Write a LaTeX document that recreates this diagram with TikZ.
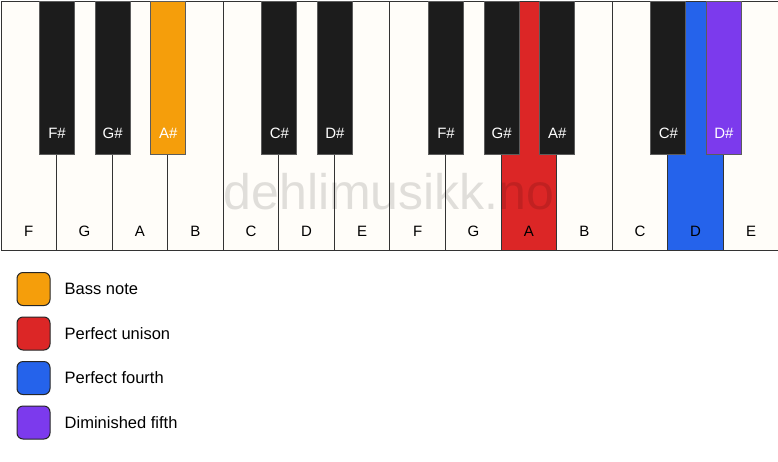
\documentclass[tikz,border=0pt]{standalone}
\usepackage{fontspec}
\setmainfont{Liberation Sans}
\usetikzlibrary{positioning}
\definecolor{keywhite}{HTML}{FFFDF9}
\definecolor{keyblack}{HTML}{1C1C1C}
\definecolor{keyline}{HTML}{333333}
\definecolor{bassorange}{HTML}{F59E0B}
\definecolor{unisonred}{HTML}{DC2626}
\definecolor{fourthblue}{HTML}{2563EB}
\definecolor{fifthviolet}{HTML}{7C3AED}

\begin{document}
\begin{tikzpicture}[x=1pt,y=-1pt,
					whitekey/.style={
						draw=keyline, line width=1pt, anchor=north west,
						inner sep=0pt, minimum width=55.57pt, minimum height=249pt
					},
					blackkey/.style={
						draw=keyline!80, line width=1pt, anchor=north,
						inner sep=0pt, minimum width=35pt, minimum height=153pt
					},
					% Style cho tên phím trắng
					white_name/.style={font=\fontsize{15}{18}\selectfont, inner sep=0pt, text=black},
					% Style cho tên phím đen
					black_name/.style={font=\fontsize{15}{18}\selectfont, inner sep=0pt, text=white},
					% Style cho ô màu chú thích
					swatch/.style={
						draw=black!85, line width=1pt, rounded corners=6pt,
						minimum size=33pt, inner sep=0pt
					},
					legend_text/.style={font=\fontsize{16.5}{20}\selectfont, inner sep=0pt, anchor=west}
					]
					\useasboundingbox (0,0) rectangle (778,461);
					\fill[white] (0,0) rectangle (778,461);
					
					% Phím trắng
					\foreach \name/\col [count=\i] in {F/keywhite,G/keywhite,A/keywhite,B/keywhite,C/keywhite,D/keywhite,E/keywhite,
						F/keywhite,G/keywhite,A/unisonred,B/keywhite,C/keywhite,D/fourthblue,E/keywhite}{
						\node[whitekey, fill=\col] (w\i) at ({(\i-1)*55.57+0.5},0.5) {};
						\node[white_name, above=14pt of w\i.south] (wn\i) {\name};
					}
					
					% Phím đen, đặt giữa hai phím trắng
					\foreach \k/\name/\col in {1/F\#/keyblack,2/G\#/keyblack,3/A\#/bassorange,5/C\#/keyblack,6/D\#/keyblack,
						8/F\#/keyblack,9/G\#/keyblack,10/A\#/keyblack,12/C\#/keyblack,13/D\#/fifthviolet}{
						\node[blackkey, fill=\col] (b\k) at (w\k.north east) {};
						\node[black_name, above=15.5pt of b\k.south] (bn\k) {\name};
					}
					
					% Chữ mờ
					\node[font=\fontsize{50}{58}\selectfont, text=black, text opacity=0.12,
					inner sep=0pt, anchor=base] (mark) at (389,209) {dehlimusikk.no};
					
					% Chú thích
					\node[swatch, fill=bassorange] (s1) at (33.5,289) {};
					\node[swatch, fill=unisonred, below=10.5pt of s1] (s2) {};
					\node[swatch, fill=fourthblue, below=10.5pt of s2] (s3) {};
					\node[swatch, fill=fifthviolet, below=10.5pt of s3] (s4) {};
					\node[legend_text, right=14pt of s1] (t1) {Bass note};
					\node[legend_text, right=14pt of s2] (t2) {Perfect unison};
					\node[legend_text, right=14pt of s3] (t3) {Perfect fourth};
					\node[legend_text, right=14pt of s4] (t4) {Diminished fifth};
					
				\end{tikzpicture}
\end{document}
